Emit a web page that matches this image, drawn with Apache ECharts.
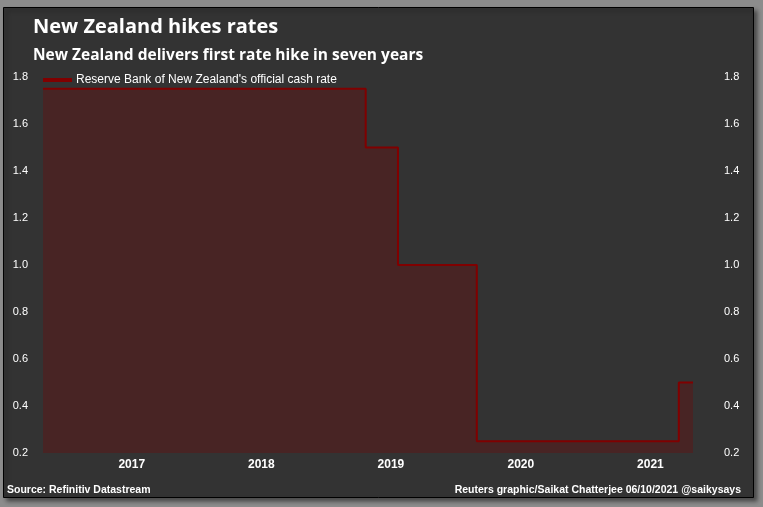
<!DOCTYPE html>
<html>
<head>
<meta charset="utf-8">
<script src="https://cdn.jsdelivr.net/npm/echarts@6/dist/echarts.min.js"></script>
<style>
html,body{margin:0;padding:0;background:#8c8c8c;}
#chart{width:763px;height:507px;}
</style>
</head>
<body>
<div id="chart"></div>
<script>
// Data
var titleText = 'New Zealand hikes rates';
var subtitleText = 'New Zealand delivers first rate hike in seven years';
var seriesName = "Reserve Bank of New Zealand's official cash rate";
var sourceText = 'Source: Refinitiv Datastream';
var creditText = 'Reuters graphic/Saikat Chatterjee 06/10/2021 @saikysays';
var rateDates = ['2016-11-10', '2019-05-08', '2019-08-07', '2020-03-16', '2021-10-06', '2021-11-15'];
var rateValues = [1.75, 1.5, 1.0, 0.25, 0.5, 0.5];
var yearLabels = ['2017', '2018', '2019', '2020', '2021'];
var yTickMin = 0.2, yTickMax = 1.8, yTickStep = 0.2;

var ts = function (d) { return Date.parse(d + 'T00:00:00Z'); };
var seriesData = rateDates.map(function (d, i) { return [ts(d), rateValues[i]]; });
var yearTickValues = yearLabels.map(function (y) { return Date.UTC(+y, 6, 18); });

var chart = echarts.init(document.getElementById('chart'), null, {renderer: 'canvas'});
var font = '"Liberation Sans", Arial, sans-serif';
var headFont = '"Open Sans", "Liberation Sans", Arial, sans-serif';
var yLabelFmt = function (v) { return v.toFixed(1); };

chart.setOption({
  animation: false,
  backgroundColor: '#8c8c8c',
  graphic: [
    {type: 'rect', z: -10, shape: {x: 3.5, y: 7.5, width: 750, height: 490},
     style: {fill: '#333333', stroke: '#000000', lineWidth: 1,
             shadowBlur: 4, shadowOffsetX: 3, shadowOffsetY: 3, shadowColor: 'rgba(0,0,0,0.45)'}},
    {type: 'text', x: 33, y: 27, style: {text: titleText, fill: '#ffffff', font: 'bold 20px ' + headFont, textVerticalAlign: 'middle'}},
    {type: 'text', x: 33, y: 56, style: {text: subtitleText, fill: '#ffffff', font: 'bold 15.5px ' + headFont, textVerticalAlign: 'middle'}},
    {type: 'text', x: 7, y: 490, style: {text: sourceText, fill: '#ffffff', font: 'bold 10.5px ' + font, textVerticalAlign: 'middle'}},
    {type: 'text', x: 741, y: 490, style: {text: creditText, fill: '#ffffff', font: 'bold 10.5px ' + font, textVerticalAlign: 'middle', textAlign: 'right'}}
  ],
  legend: {
    show: true, left: 43, top: 74, padding: 0, itemWidth: 29, itemHeight: 4, itemGap: 4,
    icon: 'rect',
    data: [seriesName],
    textStyle: {color: '#ffffff', fontFamily: font, fontSize: 12, padding: [0, 0, 0, -1]}
  },
  grid: {left: 43, right: 70, top: 77, bottom: 54, containLabel: false},
  xAxis: {
    type: 'value',
    min: seriesData[0][0], max: seriesData[seriesData.length - 1][0],
    axisLine: {show: false}, axisTick: {show: false}, splitLine: {show: false},
    axisLabel: {
      customValues: yearTickValues,
      color: '#ffffff', fontFamily: font, fontSize: 12, fontWeight: 'bold', margin: 6,
      formatter: function (v) { return String(new Date(v).getUTCFullYear()); }
    }
  },
  yAxis: [
    {type: 'value', position: 'left', min: yTickMin, max: yTickMax, interval: yTickStep,
     axisLine: {show: false}, axisTick: {show: false}, splitLine: {show: false},
     axisLabel: {color: '#ffffff', fontFamily: font, fontSize: 11, margin: 15, formatter: yLabelFmt}},
    {type: 'value', position: 'right', min: yTickMin, max: yTickMax, interval: yTickStep,
     axisLine: {show: false}, axisTick: {show: false}, splitLine: {show: false},
     axisLabel: {color: '#ffffff', fontFamily: font, fontSize: 11, margin: 31, formatter: yLabelFmt}}
  ],
  series: [{
    name: seriesName, type: 'line', step: 'end', data: seriesData,
    showSymbol: false, symbol: 'none',
    lineStyle: {color: '#800000', width: 2},
    itemStyle: {color: '#800000'},
    areaStyle: {color: 'rgba(128,0,0,0.4)', origin: 'start'}
  }]
});
</script>
</body>
</html>
